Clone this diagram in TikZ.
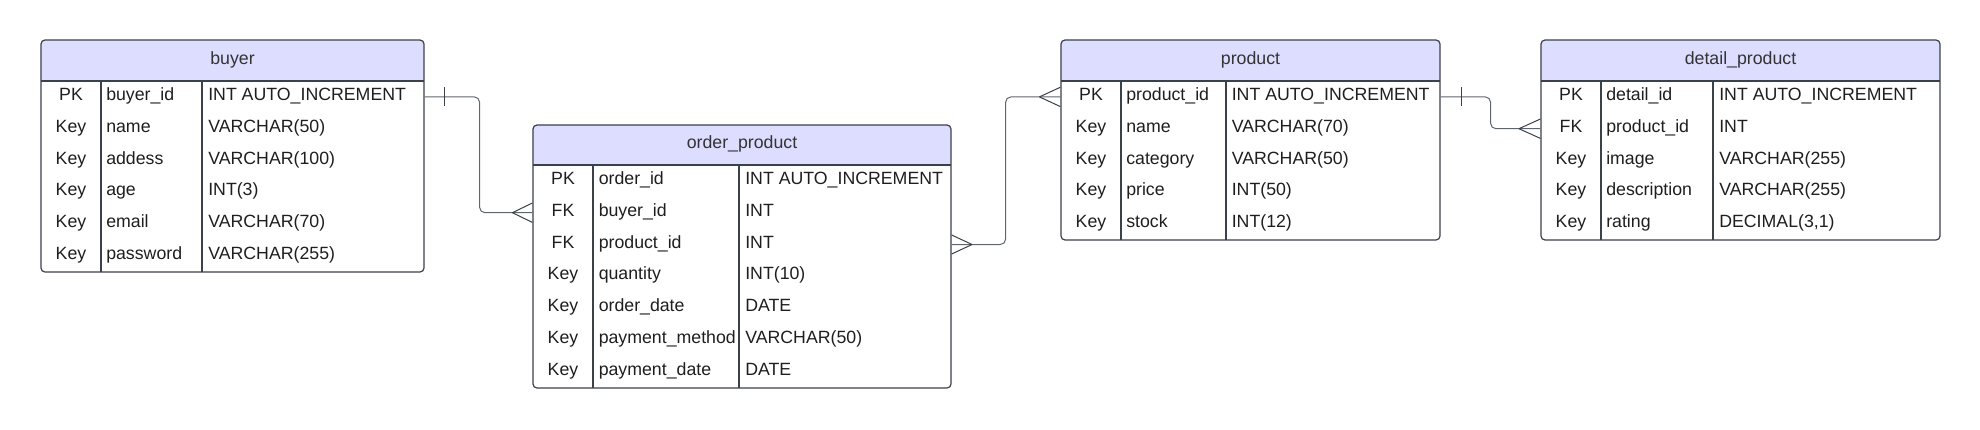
\documentclass[tikz,border=0pt]{standalone}
\usepackage{fontspec}
\setmainfont{Liberation Sans}
\usetikzlibrary{fit}

\definecolor{headfill}{HTML}{DDDDFF}
\definecolor{lineclr}{HTML}{3A414A}
\definecolor{connclr}{HTML}{5F656D}
\definecolor{rowtext}{HTML}{1E1E1E}
\definecolor{headtext}{HTML}{333333}

\begin{document}
\begin{tikzpicture}[x=0.75pt,y=0.75pt,yscale=-1,xscale=1,
    celltext/.style={font=\fontsize{13.3}{16}\selectfont, inner sep=0pt, text height=9.5pt, text depth=4.1pt, text=rowtext},
    keycell/.style={celltext, anchor=center},
    namecell/.style={celltext, anchor=west},
    typecell/.style={celltext, anchor=west},
    titlecell/.style={celltext, anchor=center, text=headtext},
    tablebox/.style={draw=lineclr, line width=0.9pt, rounded corners=3pt, inner sep=0pt},
    tableline/.style={draw=lineclr, line width=0.9pt},
    conn/.style={draw=connclr, line width=0.75pt, rounded corners=4pt},
    ermark/.style={draw=lineclr, line width=0.75pt}]

\useasboundingbox (0,0) rectangle (1980,429);

% buyer
\begin{scope}
  \clip[rounded corners=3pt] (41,40) rectangle (424,272);
  \fill[headfill] (41,40) rectangle (424,81);
\end{scope}
\node[tablebox, fit={(41,40) (424,272)}] (buyer) {};
\draw[tableline] (41,81) -- (424,81);
\draw[tableline] (101,81) -- (101,272);
\draw[tableline] (202,81) -- (202,272);
\node[titlecell] (buyer-title) at (232.5,60.5) {buyer};
\node[keycell] (buyer-k1) at (71,96.9) {PK};
\node[namecell] (buyer-n1) at (106,96.9) {buyer\_id};
\node[typecell] (buyer-t1) at (208,96.9) {INT AUTO\_INCREMENT};
\node[keycell] (buyer-k2) at (71,128.7) {Key};
\node[namecell] (buyer-n2) at (106,128.7) {name};
\node[typecell] (buyer-t2) at (208,128.7) {VARCHAR(50)};
\node[keycell] (buyer-k3) at (71,160.5) {Key};
\node[namecell] (buyer-n3) at (106,160.5) {addess};
\node[typecell] (buyer-t3) at (208,160.5) {VARCHAR(100)};
\node[keycell] (buyer-k4) at (71,192.3) {Key};
\node[namecell] (buyer-n4) at (106,192.3) {age};
\node[typecell] (buyer-t4) at (208,192.3) {INT(3)};
\node[keycell] (buyer-k5) at (71,224.1) {Key};
\node[namecell] (buyer-n5) at (106,224.1) {email};
\node[typecell] (buyer-t5) at (208,224.1) {VARCHAR(70)};
\node[keycell] (buyer-k6) at (71,255.9) {Key};
\node[namecell] (buyer-n6) at (106,255.9) {password};
\node[typecell] (buyer-t6) at (208,255.9) {VARCHAR(255)};

% order_product
\begin{scope}
  \clip[rounded corners=3pt] (533,125) rectangle (951,388);
  \fill[headfill] (533,125) rectangle (951,165);
\end{scope}
\node[tablebox, fit={(533,125) (951,388)}] (order) {};
\draw[tableline] (533,165) -- (951,165);
\draw[tableline] (593,165) -- (593,388);
\draw[tableline] (739,165) -- (739,388);
\node[titlecell] (order-title) at (742,145) {order\_product};
\node[keycell] (order-k1) at (563,180.9) {PK};
\node[namecell] (order-n1) at (598.5,180.9) {order\_id};
\node[typecell] (order-t1) at (745,180.9) {INT AUTO\_INCREMENT};
\node[keycell] (order-k2) at (563,212.7) {FK};
\node[namecell] (order-n2) at (598.5,212.7) {buyer\_id};
\node[typecell] (order-t2) at (745,212.7) {INT};
\node[keycell] (order-k3) at (563,244.5) {FK};
\node[namecell] (order-n3) at (598.5,244.5) {product\_id};
\node[typecell] (order-t3) at (745,244.5) {INT};
\node[keycell] (order-k4) at (563,276.3) {Key};
\node[namecell] (order-n4) at (598.5,276.3) {quantity};
\node[typecell] (order-t4) at (745,276.3) {INT(10)};
\node[keycell] (order-k5) at (563,308.1) {Key};
\node[namecell] (order-n5) at (598.5,308.1) {order\_date};
\node[typecell] (order-t5) at (745,308.1) {DATE};
\node[keycell] (order-k6) at (563,339.9) {Key};
\node[namecell] (order-n6) at (598.5,339.9) {payment\_method};
\node[typecell] (order-t6) at (745,339.9) {VARCHAR(50)};
\node[keycell] (order-k7) at (563,371.7) {Key};
\node[namecell] (order-n7) at (598.5,371.7) {payment\_date};
\node[typecell] (order-t7) at (745,371.7) {DATE};

% product
\begin{scope}
  \clip[rounded corners=3pt] (1061,40) rectangle (1440,240);
  \fill[headfill] (1061,40) rectangle (1440,81);
\end{scope}
\node[tablebox, fit={(1061,40) (1440,240)}] (product) {};
\draw[tableline] (1061,81) -- (1440,81);
\draw[tableline] (1121,81) -- (1121,240);
\draw[tableline] (1226,81) -- (1226,240);
\node[titlecell] (product-title) at (1250.5,60.5) {product};
\node[keycell] (product-k1) at (1091,96.9) {PK};
\node[namecell] (product-n1) at (1126,96.9) {product\_id};
\node[typecell] (product-t1) at (1231.5,96.9) {INT AUTO\_INCREMENT};
\node[keycell] (product-k2) at (1091,128.7) {Key};
\node[namecell] (product-n2) at (1126,128.7) {name};
\node[typecell] (product-t2) at (1231.5,128.7) {VARCHAR(70)};
\node[keycell] (product-k3) at (1091,160.5) {Key};
\node[namecell] (product-n3) at (1126,160.5) {category};
\node[typecell] (product-t3) at (1231.5,160.5) {VARCHAR(50)};
\node[keycell] (product-k4) at (1091,192.3) {Key};
\node[namecell] (product-n4) at (1126,192.3) {price};
\node[typecell] (product-t4) at (1231.5,192.3) {INT(50)};
\node[keycell] (product-k5) at (1091,224.1) {Key};
\node[namecell] (product-n5) at (1126,224.1) {stock};
\node[typecell] (product-t5) at (1231.5,224.1) {INT(12)};

% detail_product
\begin{scope}
  \clip[rounded corners=3pt] (1541,40) rectangle (1940,240);
  \fill[headfill] (1541,40) rectangle (1940,81);
\end{scope}
\node[tablebox, fit={(1541,40) (1940,240)}] (detail) {};
\draw[tableline] (1541,81) -- (1940,81);
\draw[tableline] (1601,81) -- (1601,240);
\draw[tableline] (1713,81) -- (1713,240);
\node[titlecell] (detail-title) at (1740.5,60.5) {detail\_product};
\node[keycell] (detail-k1) at (1571,96.9) {PK};
\node[namecell] (detail-n1) at (1606,96.9) {detail\_id};
\node[typecell] (detail-t1) at (1719,96.9) {INT AUTO\_INCREMENT};
\node[keycell] (detail-k2) at (1571,128.7) {FK};
\node[namecell] (detail-n2) at (1606,128.7) {product\_id};
\node[typecell] (detail-t2) at (1719,128.7) {INT};
\node[keycell] (detail-k3) at (1571,160.5) {Key};
\node[namecell] (detail-n3) at (1606,160.5) {image};
\node[typecell] (detail-t3) at (1719,160.5) {VARCHAR(255)};
\node[keycell] (detail-k4) at (1571,192.3) {Key};
\node[namecell] (detail-n4) at (1606,192.3) {description};
\node[typecell] (detail-t4) at (1719,192.3) {VARCHAR(255)};
\node[keycell] (detail-k5) at (1571,224.1) {Key};
\node[namecell] (detail-n5) at (1606,224.1) {rating};
\node[typecell] (detail-t5) at (1719,224.1) {DECIMAL(3,1)};

% Relations
\draw[conn] (buyer.east |- buyer-k1) -- ++(55,0) |- (order.west |- order-k2);
\draw[ermark] (buyer.east |- buyer-k1) ++(20,-9.5) -- ++(0,19);
\draw[ermark] (order.west |- order-k2) ++(-20,0) -- ++(20,-9.7) ++(-20,9.7) -- ++(20,9.7);

\draw[conn] (order.east |- order-k3) -- ++(54,0) |- (product.west |- product-k1);
\draw[ermark] (order.east |- order-k3) ++(20.5,0) -- ++(-20.5,-9.5) ++(20.5,9.5) -- ++(-20.5,9.5);
\draw[ermark] (product.west |- product-k1) ++(-21,0) -- ++(21,-9.7) ++(-21,9.7) -- ++(21,9.7);

\draw[conn] (product.east |- product-k1) -- ++(50,0) |- (detail.west |- detail-k2);
\draw[ermark] (product.east |- product-k1) ++(20.5,-9.5) -- ++(0,19);
\draw[ermark] (detail.west |- detail-k2) ++(-21.5,0) -- ++(21.5,-9.7) ++(-21.5,9.7) -- ++(21.5,9.7);

\end{tikzpicture}
\end{document}
